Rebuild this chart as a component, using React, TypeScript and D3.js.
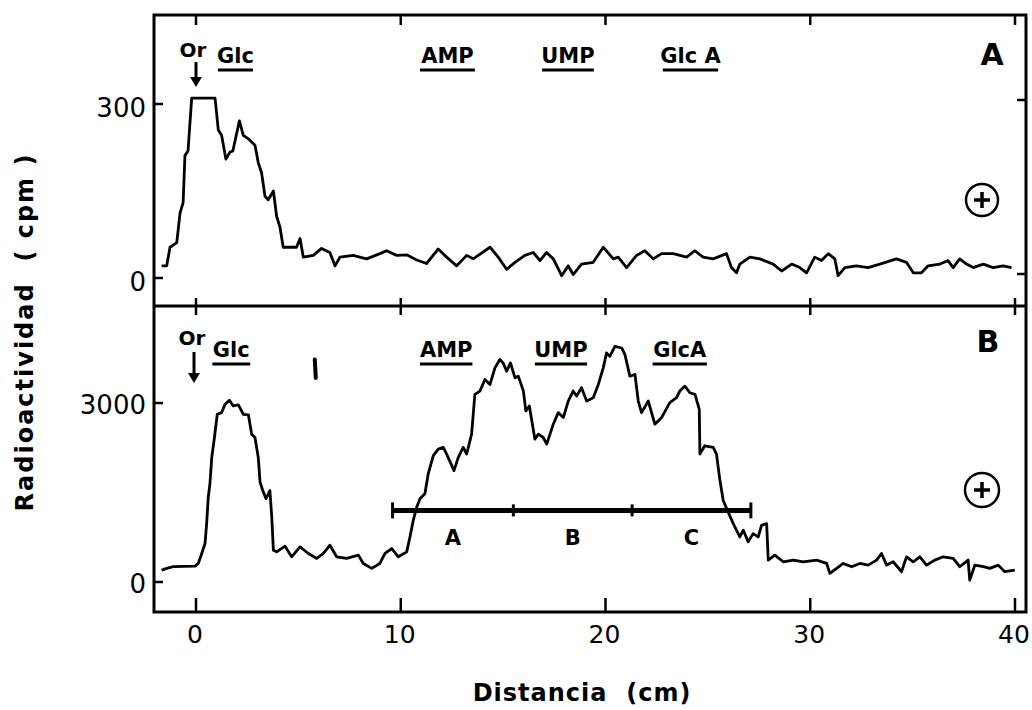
import React from "react";
import * as d3 from "d3";

// Panel A: distancia (cm) / radioactividad (cpm)
const distA = [-1.68, -1.43, -1.27, -0.94, -0.78, -0.63, -0.54, -0.39, -0.21, 0.93, 1.09, 1.25, 1.46, 1.66, 1.8, 2.12, 2.31, 2.56, 2.88, 3.04, 3.2, 3.37, 3.53, 3.78, 3.94, 4.1, 4.26, 4.91, 5.08, 5.24, 5.73, 6.13, 6.54, 6.79, 7.03, 7.68, 8.33, 8.98, 9.31, 9.8, 10.29, 10.78, 11.26, 11.83, 12.24, 12.73, 13.22, 13.54, 14.36, 14.76, 15.17, 15.58, 16.06, 16.47, 16.8, 17.12, 17.45, 17.86, 18.18, 18.42, 18.83, 19.4, 19.89, 20.38, 20.62, 21.03, 21.52, 21.92, 22.33, 22.74, 23.31, 23.96, 24.36, 24.77, 25.26, 25.91, 26.15, 26.4, 26.56, 27.05, 27.54, 28.19, 28.6, 29.09, 29.49, 29.82, 30.22, 30.55, 30.88, 31.2, 31.36, 31.69, 32.26, 32.83, 33.4, 34.21, 34.7, 35.03, 35.43, 35.76, 36.33, 36.73, 36.98, 37.3, 37.63, 37.96, 38.45, 38.93, 39.42, 39.83];
const cpmA = [21, 21, 53, 61, 112, 130, 211, 219, 310, 310, 255, 246, 205, 217, 219, 271, 246, 240, 229, 199, 182, 141, 135, 150, 106, 88, 53, 53, 68, 36, 39, 51, 44, 21, 36, 39, 33, 42, 47, 39, 40, 31, 25, 50, 36, 21, 39, 33, 53, 36, 15, 27, 39, 44, 30, 44, 33, 4, 21, 6, 24, 27, 53, 33, 36, 18, 39, 47, 33, 42, 42, 36, 47, 36, 33, 42, 18, 9, 24, 36, 33, 24, 12, 24, 18, 9, 36, 30, 42, 33, 4, 18, 21, 18, 24, 33, 27, 9, 9, 21, 24, 30, 18, 33, 24, 18, 24, 18, 21, 18];

// Panel B
const distB = [-1.68, -1.43, -1.11, -0.05, 0.11, 0.28, 0.44, 0.52, 0.6, 0.68, 0.77, 0.88, 1.04, 1.25, 1.42, 1.63, 1.82, 2.07, 2.31, 2.56, 2.72, 2.88, 3.04, 3.13, 3.26, 3.42, 3.61, 3.7, 3.78, 3.94, 4.35, 4.67, 5.08, 5.49, 5.9, 6.22, 6.54, 6.87, 7.36, 7.93, 8.17, 8.58, 8.98, 9.23, 9.56, 9.88, 10.29, 10.45, 10.61, 10.78, 10.94, 11.18, 11.34, 11.59, 11.83, 12.08, 12.24, 12.6, 12.81, 13.05, 13.22, 13.46, 13.62, 13.87, 14.11, 14.36, 14.6, 14.84, 15.0, 15.17, 15.36, 15.58, 15.74, 15.99, 16.11, 16.28, 16.55, 16.72, 16.96, 17.13, 17.45, 17.69, 17.94, 18.18, 18.42, 18.59, 18.83, 19.08, 19.4, 19.65, 19.89, 20.05, 20.21, 20.46, 20.79, 20.95, 21.19, 21.44, 21.6, 21.76, 22.09, 22.41, 22.74, 23.14, 23.47, 23.63, 23.88, 24.12, 24.37, 24.58, 24.61, 24.85, 25.26, 25.42, 25.59, 25.75, 25.99, 26.24, 26.56, 26.73, 26.97, 27.21, 27.46, 27.62, 27.87, 27.95, 28.27, 28.68, 29.17, 29.66, 30.31, 30.8, 30.96, 31.29, 31.61, 32.02, 32.42, 32.83, 33.24, 33.48, 33.73, 34.05, 34.46, 34.7, 35.03, 35.35, 35.68, 36.08, 36.49, 36.98, 37.3, 37.71, 37.79, 38.04, 38.45, 38.77, 39.18, 39.5, 39.99];
const cpmB = [200, 228, 256, 267, 311, 478, 645, 978, 1422, 1645, 2089, 2367, 2811, 2839, 2978, 3045, 2950, 2967, 2811, 2800, 2478, 2422, 2089, 1672, 1533, 1395, 1533, 1089, 533, 505, 600, 422, 589, 478, 395, 478, 617, 422, 395, 450, 311, 228, 311, 478, 561, 422, 505, 755, 1033, 1255, 1395, 1478, 1811, 2117, 2228, 2256, 2145, 1867, 2089, 2256, 2145, 2478, 3145, 3200, 3395, 3311, 3589, 3728, 3672, 3533, 3672, 3422, 3450, 3200, 2867, 2950, 2395, 2478, 2422, 2311, 2645, 2839, 2756, 3033, 3200, 3117, 3256, 3033, 3089, 3311, 3589, 3839, 3783, 3950, 3922, 3811, 3450, 3478, 3033, 2839, 3033, 2645, 2756, 3006, 3089, 3200, 3283, 3172, 3145, 2895, 2145, 2283, 2256, 2145, 1700, 1367, 1172, 978, 755, 867, 672, 811, 755, 950, 978, 367, 450, 339, 367, 339, 367, 311, 145, 228, 311, 256, 311, 283, 367, 478, 283, 339, 172, 422, 339, 422, 283, 367, 422, 395, 256, 367, 33, 283, 256, 228, 283, 172, 200];

const xTicks = [0, 10, 20, 30, 40];
const yTicksA = [0, 300];
const yTicksB = [0, 3000];

// standards run alongside (cm ranges)
const compuestosA = ["Glc", "AMP", "UMP", "Glc A"];
const rangosA = [[1.07, 2.78], [10.94, 13.62], [16.9, 19.43], [22.8, 25.5]];
const compuestosB = ["Glc", "AMP", "UMP", "GlcA"];
const rangosB = [[0.8, 2.65], [10.94, 13.5], [16.55, 19.1], [22.3, 24.95]];

// fractions pooled in B
const fracciones = ["A", "B", "C"];
const limitesFraccion = [9.6, 15.5, 21.3, 27.1];
const nivelFraccion = 1200;

const W = 1032;
const H = 710;
const left = 154;
const right = 1026;
const top = 15;
const mid = 306;
const bottom = 612;

const font = "'DejaVu Sans', sans-serif";

export default function App() {
  const x = d3.scaleLinear().domain([0, 40]).range([196, 1015]);
  const yA = d3.scaleLinear().domain([0, 300]).range([278, 104]);
  const yB = d3.scaleLinear().domain([0, 3000]).range([582, 403]);

  const lineA = d3.line<number>().x((d, i) => x(distA[i])).y((d) => yA(d));
  const lineB = d3.line<number>().x((d, i) => x(distB[i])).y((d) => yB(d));

  const arrow = (cx: number, y0: number, y1: number) => (
    <g>
      <line x1={cx} x2={cx} y1={y0} y2={y1 - 8} stroke="#000" strokeWidth={3} />
      <path d={`M${cx - 6},${y1 - 10}L${cx + 6},${y1 - 10}L${cx},${y1}Z`} fill="#000" />
    </g>
  );

  const plus = (cx: number, cy: number, r: number) => (
    <g stroke="#000" strokeWidth={2.5} fill="none">
      <circle cx={cx} cy={cy} r={r} />
      <line x1={cx - 8} x2={cx + 8} y1={cy} y2={cy} strokeWidth={3.5} />
      <line x1={cx} x2={cx} y1={cy - 8} y2={cy + 8} strokeWidth={3.5} />
    </g>
  );

  const marcas = (nombres: string[], rangos: number[][], base: number) =>
    nombres.map((n, i) => {
      const x0 = x(rangos[i][0]);
      const x1 = x(rangos[i][1]);
      return (
        <g key={n + i}>
          <text x={(x0 + x1) / 2} y={base} textAnchor="middle" fontSize={21} fontWeight="bold" fontFamily={font} style={{ whiteSpace: "pre" }}>
            {n}
          </text>
          <line x1={x0} x2={x1} y1={base + 7} y2={base + 7} stroke="#000" strokeWidth={3} />
        </g>
      );
    });

  return (
    <svg width={W} height={H} style={{ position: "absolute", left: 0, top: 0, background: "#fff" }}>
      {/* frame */}
      <rect x={left} y={top} width={right - left} height={bottom - top} fill="none" stroke="#000" strokeWidth={3} />
      <line x1={left} x2={right} y1={mid} y2={mid} stroke="#000" strokeWidth={3} />

      {/* x ticks */}
      {xTicks.map((t) => (
        <g key={t} stroke="#000" strokeWidth={2.5}>
          <line x1={x(t)} x2={x(t)} y1={top} y2={top + 10} />
          <line x1={x(t)} x2={x(t)} y1={mid - 8} y2={mid + 9} />
          <line x1={x(t)} x2={x(t)} y1={bottom - 14} y2={bottom} />
        </g>
      ))}
      {xTicks.map((t) => (
        <text key={"l" + t} x={x(t) - 1} y={643} textAnchor="middle" fontSize={25} fontFamily={font}>
          {t}
        </text>
      ))}

      {/* y ticks */}
      {yTicksA.map((t) => (
        <g key={"a" + t}>
          <line x1={left} x2={left + 9} y1={yA(t)} y2={yA(t)} stroke="#000" strokeWidth={2.5} />
          <line x1={right - 9} x2={right} y1={yA(t) - 4} y2={yA(t) - 4} stroke="#000" strokeWidth={2.5} />
          <text x={146} y={yA(t) + 13} textAnchor="end" fontSize={26} fontFamily={font}>
            {t}
          </text>
        </g>
      ))}
      {yTicksB.map((t) => (
        <g key={"b" + t}>
          <line x1={left} x2={left + 9} y1={yB(t)} y2={yB(t)} stroke="#000" strokeWidth={2.5} />
          <text x={146} y={yB(t) + 11} textAnchor="end" fontSize={26} fontFamily={font}>
            {t}
          </text>
        </g>
      ))}

      {/* curves */}
      <path d={lineA(cpmA) || ""} fill="none" stroke="#000" strokeWidth={2.8} strokeLinejoin="round" />
      <path d={lineB(cpmB) || ""} fill="none" stroke="#000" strokeWidth={2.8} strokeLinejoin="round" />

      {/* panel A annotations */}
      <text x={x(0) - 3} y={57} textAnchor="middle" fontSize={20} fontFamily={font} fontWeight="bold">Or</text>
      {arrow(x(0), 62, 87)}
      {marcas(compuestosA, rangosA, 63)}
      <text x={992} y={65} textAnchor="middle" fontSize={30} fontWeight="bold" fontFamily={font}>A</text>
      {plus(982, 200, 16)}

      {/* panel B annotations */}
      <text x={x(0) - 4} y={345} textAnchor="middle" fontSize={20} fontFamily={font} fontWeight="bold">Or</text>
      {arrow(x(0) - 2, 352, 383)}
      {marcas(compuestosB, rangosB, 357)}
      <line x1={x(5.8)} x2={x(5.85)} y1={yB(3730)} y2={yB(3420)} stroke="#000" strokeWidth={4} strokeLinecap="round" />
      <text x={988} y={352} textAnchor="middle" fontSize={30} fontWeight="bold" fontFamily={font}>B</text>
      {plus(982, 490, 17)}

      {/* fraction bar */}
      <line x1={x(limitesFraccion[0])} x2={x(limitesFraccion[3])} y1={yB(nivelFraccion)} y2={yB(nivelFraccion)} stroke="#000" strokeWidth={5} />
      {limitesFraccion.map((l, i) => {
        const h = i === 0 || i === limitesFraccion.length - 1 ? 8 : 6;
        return <line key={"f" + i} x1={x(l)} x2={x(l)} y1={yB(nivelFraccion) - h} y2={yB(nivelFraccion) + h} stroke="#000" strokeWidth={3} />;
      })}
      {fracciones.map((f, i) => (
        <text key={f} x={x((limitesFraccion[i] + limitesFraccion[i + 1]) / 2)} y={yB(nivelFraccion) + 35} textAnchor="middle" fontSize={21} fontWeight="bold" fontFamily={font}>
          {f}
        </text>
      ))}

      {/* axis titles */}
      <text x={582} y={701} textAnchor="middle" fontSize={24} fontWeight="bold" fontFamily={font} letterSpacing={1} style={{ whiteSpace: "pre" }}>
        {"Distancia  (cm)"}
      </text>
      <text transform="translate(33,332) rotate(-90)" textAnchor="middle" fontSize={24} fontWeight="bold" fontFamily={font} letterSpacing={2} style={{ whiteSpace: "pre" }}>
        {"Radioactividad  ( cpm )"}
      </text>
    </svg>
  );
}
